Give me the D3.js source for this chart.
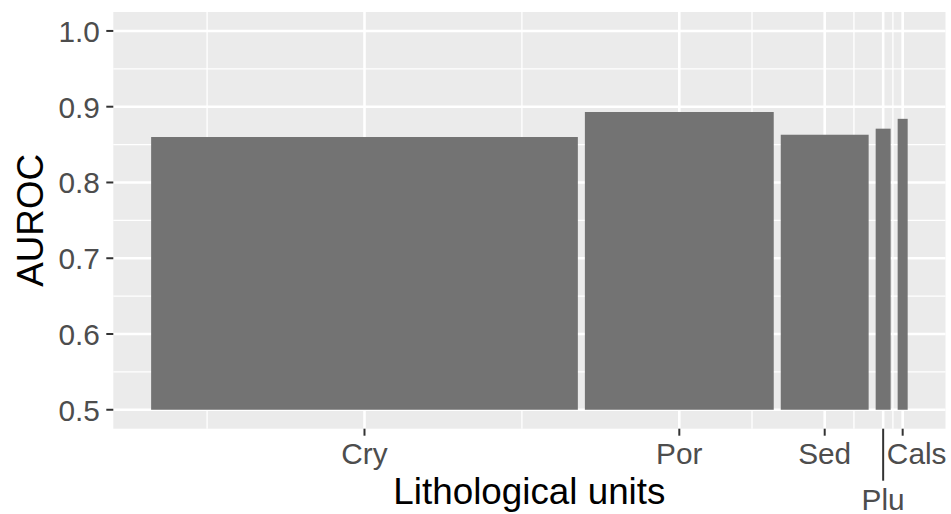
<!DOCTYPE html>
<html>
<head>
<meta charset="utf-8">
<script src="https://cdn.jsdelivr.net/npm/d3@7"></script>
<style>
  html, body { margin: 0; padding: 0; background: #fff; }
  svg { display: block; font-family: "Liberation Sans", Arial, Helvetica, sans-serif; }
</style>
</head>
<body>
<svg id="chart" width="951" height="514"></svg>
<script>
// ---- data ----
const units = ["Cry", "Por", "Sed", "Plu", "Cals"];
const areaShare = [0.568, 0.2565, 0.1243, 0.0288, 0.0223];
const auroc = [0.860, 0.893, 0.863, 0.871, 0.884];
const yTicks = [0.5, 0.6, 0.7, 0.8, 0.9, 1.0];
const yMinor = [0.55, 0.65, 0.75, 0.85, 0.95];
const xLabel = "Lithological units";
const yLabel = "AUROC";

// ---- layout ----
const W = 951, H = 514;
const panel = { left: 113.3, right: 945.5, top: 12, bottom: 428.7 };
const gap = 0.0092;              // spacing between bars (in share units)
const barFill = "#737373";
const tickFont = 29.8, titleFont = 36.8;

// build bar table
let acc = 0;
const bars = units.map((u, i) => {
  const x0 = acc; acc += areaShare[i];
  return { unit: u, x0: x0 + gap / 2, x1: acc - gap / 2, mid: x0 + areaShare[i] / 2, v: auroc[i] };
});

const dataMin = bars[0].x0, dataMax = bars[bars.length - 1].x1;
const ex = (dataMax - dataMin) * 0.05;
const x = d3.scaleLinear().domain([dataMin - ex, dataMax + ex]).range([panel.left, panel.right]);
const y = d3.scaleLinear().domain([0.475, 1.025]).range([panel.bottom, panel.top]);

const svg = d3.select("#chart");

// panel background
svg.append("rect")
  .attr("x", panel.left).attr("y", panel.top)
  .attr("width", panel.right - panel.left).attr("height", panel.bottom - panel.top)
  .attr("fill", "#EBEBEB");

const grid = svg.append("g");
// x minor breaks (ggplot style: midpoints, with one extension step)
const mids = bars.map(b => b.mid);
const step = mids[1] - mids[0];
const ext = [mids[0] - step, ...mids, mids[mids.length - 1] + step];
const xMinor = [];
for (let i = 0; i < ext.length - 1; i++) xMinor.push((ext[i] + ext[i + 1]) / 2);
const [xd0, xd1] = x.domain();

grid.selectAll("line.ymin").data(yMinor).enter().append("line")
  .attr("x1", panel.left).attr("x2", panel.right)
  .attr("y1", d => y(d)).attr("y2", d => y(d))
  .attr("stroke", "#fff").attr("stroke-width", 1.3);
grid.selectAll("line.xmin").data(xMinor.filter(v => v > xd0 && v < xd1)).enter().append("line")
  .attr("y1", panel.top).attr("y2", panel.bottom)
  .attr("x1", d => x(d)).attr("x2", d => x(d))
  .attr("stroke", "#fff").attr("stroke-width", 1.3);
grid.selectAll("line.ymaj").data(yTicks).enter().append("line")
  .attr("x1", panel.left).attr("x2", panel.right)
  .attr("y1", d => y(d)).attr("y2", d => y(d))
  .attr("stroke", "#fff").attr("stroke-width", 2.6);
grid.selectAll("line.xmaj").data(mids).enter().append("line")
  .attr("y1", panel.top).attr("y2", panel.bottom)
  .attr("x1", d => x(d)).attr("x2", d => x(d))
  .attr("stroke", "#fff").attr("stroke-width", 2.6);

// bars
svg.append("g").selectAll("rect").data(bars).enter().append("rect")
  .attr("x", d => x(d.x0))
  .attr("width", d => x(d.x1) - x(d.x0))
  .attr("y", d => y(d.v))
  .attr("height", d => y(0.5) - y(d.v))
  .attr("fill", barFill);

// y axis
const yAxis = svg.append("g");
yAxis.selectAll("line").data(yTicks).enter().append("line")
  .attr("x1", panel.left - 7).attr("x2", panel.left)
  .attr("y1", d => y(d)).attr("y2", d => y(d))
  .attr("stroke", "#333").attr("stroke-width", 2);
yAxis.selectAll("text").data(yTicks).enter().append("text")
  .attr("x", panel.left - 13.5)
  .attr("y", d => y(d) + 11)
  .attr("text-anchor", "end")
  .attr("font-size", tickFont).attr("fill", "#4D4D4D")
  .text(d => d3.format(".1f")(d));

// x axis: Plu dropped to a second row with a longer tick
const secondRow = { "Plu": true };
const labelShift = { "Cals": 14 };
const xAxis = svg.append("g");
xAxis.selectAll("line").data(bars).enter().append("line")
  .attr("x1", d => x(d.mid)).attr("x2", d => x(d.mid))
  .attr("y1", panel.bottom)
  .attr("y2", d => secondRow[d.unit] ? panel.bottom + 52 : panel.bottom + 7)
  .attr("stroke", "#333").attr("stroke-width", 2);
xAxis.selectAll("text").data(bars).enter().append("text")
  .attr("x", d => x(d.mid) + (labelShift[d.unit] || 0))
  .attr("y", d => secondRow[d.unit] ? 509.5 : 463.5)
  .attr("text-anchor", "middle")
  .attr("font-size", tickFont).attr("fill", "#4D4D4D")
  .text(d => d.unit);

// axis titles
svg.append("text")
  .attr("x", (panel.left + panel.right) / 2)
  .attr("y", 504)
  .attr("text-anchor", "middle")
  .attr("font-size", titleFont).attr("fill", "#000")
  .text(xLabel);
svg.append("text")
  .attr("transform", `translate(42.5,${(panel.top + panel.bottom) / 2}) rotate(-90)`)
  .attr("text-anchor", "middle")
  .attr("font-size", titleFont).attr("fill", "#000")
  .text(yLabel);
</script>
</body>
</html>
